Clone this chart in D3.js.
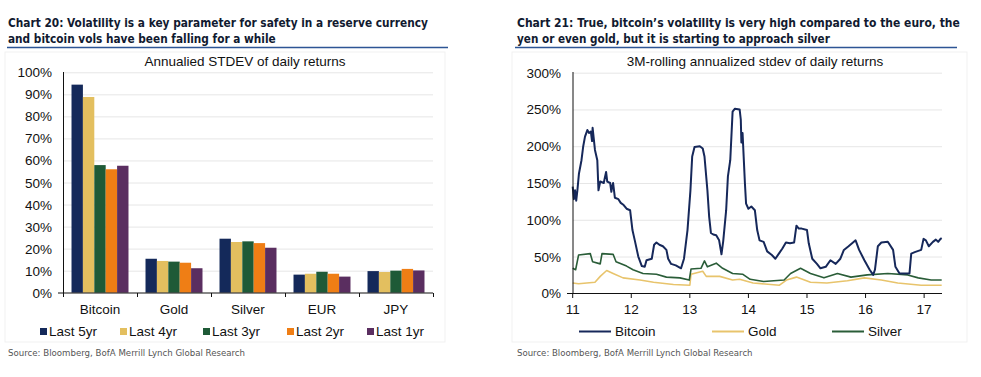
<!DOCTYPE html>
<html>
<head>
<meta charset="utf-8">
<script src="https://cdn.jsdelivr.net/npm/d3@7"></script>
<style>
  body { margin: 0; background: #fff; }
  svg { display: block; }
  .ttl { font-family: "Liberation Sans Narrow", "DejaVu Sans Condensed", "Roboto Condensed", sans-serif; font-weight: bold; font-size: 14px; fill: #111a30; }
  .src { font-family: "Liberation Sans Narrow", "DejaVu Sans Condensed", sans-serif; font-size: 11px; fill: #555; }
  .lbl { font-family: "Liberation Sans", Arial, sans-serif; font-size: 13.5px; fill: #111; }
</style>
</head>
<body>
<svg id="chart" width="981" height="377"></svg>
<script>
// ---- left chart data
const categories = ["Bitcoin", "Gold", "Silver", "EUR", "JPY"];
const seriesNames = ["Last 5yr", "Last 4yr", "Last 3yr", "Last 2yr", "Last 1yr"];
const last5yr = [94.4, 15.4, 24.5, 8.2, 9.8];
const last4yr = [88.8, 14.4, 23.0, 8.6, 9.4];
const last3yr = [57.9, 14.1, 23.3, 9.5, 10.0];
const last2yr = [56.0, 13.6, 22.5, 8.6, 10.8];
const last1yr = [57.6, 11.1, 20.4, 7.3, 10.1];
const barColors = ["#14295a", "#e3bf5f", "#1e5a37", "#ef7e15", "#5a2e60"];
const pctTicks = [0, 10, 20, 30, 40, 50, 60, 70, 80, 90, 100];

// ---- right chart data [year, %]
const bitcoinVol = [[11.0,145],[11.02,128],[11.04,140],[11.06,126],[11.08,140],[11.107,163],[11.15,181],[11.18,200],[11.21,213],[11.25,222],[11.28,218],[11.31,220],[11.33,207],[11.34,225],[11.38,195],[11.42,181],[11.44,140],[11.47,152],[11.53,150],[11.57,165],[11.59,152],[11.64,150],[11.66,138],[11.67,143],[11.69,150],[11.72,130],[11.78,128],[11.82,123],[11.87,120],[11.92,115],[11.98,113],[12.02,86],[12.06,72],[12.12,50],[12.18,37],[12.23,36],[12.26,45],[12.35,47],[12.39,66],[12.43,69],[12.48,66],[12.54,64],[12.6,59],[12.63,47],[12.68,40],[12.76,38],[12.85,34],[12.9,47],[12.96,86],[13.01,140],[13.04,186],[13.08,199],[13.17,200],[13.22,197],[13.25,186],[13.3,140],[13.33,104],[13.36,82],[13.4,80],[13.45,79],[13.5,72],[13.54,53],[13.57,71],[13.62,113],[13.65,159],[13.69,181],[13.73,247],[13.77,251],[13.85,250],[13.87,236],[13.88,205],[13.9,218],[13.94,150],[13.96,122],[14.0,115],[14.05,118],[14.11,113],[14.15,86],[14.19,72],[14.26,70],[14.32,57],[14.4,52],[14.46,47],[14.52,54],[14.58,61],[14.64,69],[14.71,68],[14.78,69],[14.82,92],[14.86,88],[14.91,88],[15.0,86],[15.03,68],[15.09,47],[15.17,40],[15.23,34],[15.32,36],[15.4,45],[15.49,40],[15.57,47],[15.63,59],[15.71,64],[15.83,72],[15.89,59],[15.98,45],[16.07,32],[16.13,25],[16.16,32],[16.21,64],[16.27,69],[16.38,70],[16.47,59],[16.51,36],[16.58,27],[16.75,27],[16.78,54],[16.84,56],[16.95,59],[16.99,74],[17.03,72],[17.08,64],[17.15,70],[17.2,73],[17.24,70],[17.28,74],[17.3,75]];
const goldVol = [[11.0,14],[11.1,13],[11.24,14],[11.38,15],[11.47,23],[11.58,31],[11.69,27],[11.86,21],[12.15,18],[12.38,15],[12.72,12],[13.0,11],[13.02,26],[13.22,30],[13.28,23],[13.51,23],[13.73,18],[13.85,19],[14.08,14],[14.53,11],[14.65,18],[14.82,22],[15.06,15],[15.34,14],[15.69,17],[15.98,21],[16.27,18],[16.55,14],[16.95,11],[17.3,11]];
const silverVol = [[11.0,34],[11.05,32],[11.1,52],[11.3,54],[11.34,43],[11.47,40],[11.5,54],[11.69,53],[11.74,43],[11.92,37],[12.03,32],[12.2,27],[12.43,26],[12.6,22],[12.83,21],[12.99,18],[13.02,33],[13.19,34],[13.25,44],[13.3,36],[13.45,41],[13.56,34],[13.73,27],[13.9,26],[14.03,19],[14.26,16],[14.61,18],[14.72,27],[14.89,34],[15.06,27],[15.29,21],[15.52,27],[15.75,22],[16.03,25],[16.38,27],[16.72,25],[16.9,21],[17.12,18],[17.3,18]];
const lineNames = ["Bitcoin", "Gold", "Silver"];
const lineColors = ["#16285a", "#e8c46c", "#2a5d38"];
const yearTicks = [11, 12, 13, 14, 15, 16, 17];
const rollTicks = [0, 50, 100, 150, 200, 250, 300];

const svg = d3.select("#chart");

// scale font size so the text spans the wanted width
function fitText(sel, width) {
  const fs = parseFloat(getComputedStyle(sel.node()).fontSize);
  const w = sel.node().getComputedTextLength();
  sel.style("font-size", (fs * width / w).toFixed(2) + "px");
}

// titles
function title(x, w1, w2, l1, l2) {
  fitText(svg.append("text").attr("class", "ttl").attr("x", x).attr("y", 27).text(l1), w1);
  fitText(svg.append("text").attr("class", "ttl").attr("x", x).attr("y", 43).text(l2), w2);
}
title(8, 420, 268, "Chart 20: Volatility is a key parameter for safety in a reserve currency", "and bitcoin vols have been falling for a while");
title(517, 443, 313, "Chart 21: True, bitcoin\u2019s volatility is very high compared to the euro, the", "yen or even gold, but it is starting to approach silver");
svg.append("line").attr("x1", 7).attr("x2", 448).attr("y1", 47.5).attr("y2", 47.5).attr("stroke", "#2d5595").attr("stroke-width", 1.3);
svg.append("line").attr("x1", 515).attr("x2", 957).attr("y1", 47.5).attr("y2", 47.5).attr("stroke", "#2d5595").attr("stroke-width", 1.3);

// ================= left: grouped bars
const xBand = d3.scaleBand().domain(categories).range([63, 433]).paddingInner(0.23).paddingOuter(0.115);
const xSub = d3.scaleBand().domain(seriesNames).range([0, xBand.bandwidth()]);
const yPct = d3.scaleLinear().domain([0, 100]).range([292.7, 72.3]);
const barSeries = [last5yr, last4yr, last3yr, last2yr, last1yr];

svg.append("rect").attr("x", 5).attr("y", 52).attr("width", 440).attr("height", 290).attr("fill", "none").attr("stroke", "#f1f1f1");

svg.append("g").selectAll("line").data(pctTicks.slice(1)).join("line")
  .attr("x1", 63).attr("x2", 433).attr("y1", d => yPct(d) + 0.5).attr("y2", d => yPct(d) + 0.5)
  .attr("stroke", "#e6e6e6");

const groups = svg.append("g").selectAll("g").data(categories).join("g")
  .attr("transform", d => `translate(${xBand(d)},0)`);
groups.selectAll("rect").data((c, ci) => seriesNames.map((s, si) => ({ s, si, v: barSeries[si][ci] }))).join("rect")
  .attr("x", d => xSub(d.s)).attr("width", xSub.bandwidth())
  .attr("y", d => yPct(d.v)).attr("height", d => yPct(0) - yPct(d.v))
  .attr("fill", d => barColors[d.si]);

svg.append("g").attr("class", "lbl").selectAll("text").data(pctTicks).join("text")
  .attr("x", 52).attr("y", d => yPct(d) + 5).attr("text-anchor", "end").text(d => d + "%");
svg.append("line").attr("x1", 63.5).attr("x2", 63.5).attr("y1", 72).attr("y2", 293).attr("stroke", "#111");
svg.append("line").attr("x1", 58).attr("x2", 433).attr("y1", 293).attr("y2", 293).attr("stroke", "#111");
const bandEdges = categories.map(c => xBand(c) - xBand.step() * xBand.paddingInner() / 2).concat([433]);
svg.append("g").selectAll("line").data(bandEdges).join("line")
  .attr("x1", d => d + 0.5).attr("x2", d => d + 0.5).attr("y1", 293).attr("y2", 297).attr("stroke", "#111");
svg.append("g").attr("class", "lbl").selectAll("text").data(categories).join("text")
  .attr("x", d => xBand(d) + xBand.bandwidth() / 2).attr("y", 314).attr("text-anchor", "middle").text(d => d);

svg.append("text").attr("class", "lbl").attr("x", 245).attr("y", 66).attr("text-anchor", "middle").text("Annualied STDEV of daily returns");

const legX = [40, 120, 203, 287, 367];
const leg = svg.append("g").selectAll("g").data(seriesNames).join("g").attr("transform", (d, i) => `translate(${legX[i]},0)`);
leg.append("rect").attr("x", 0).attr("y", 328).attr("width", 7).attr("height", 7).attr("fill", (d, i) => barColors[i]);
leg.append("text").attr("class", "lbl").attr("x", 9).attr("y", 336).text(d => d);

fitText(svg.append("text").attr("class", "src").attr("x", 8).attr("y", 356).text("Source: Bloomberg, BofA Merrill Lynch Global Research"), 237);

// ================= right: lines
const xYear = d3.scaleLinear().domain([11, 17.3]).range([572.7, 941.7]);
const yRoll = d3.scaleLinear().domain([0, 300]).range([293.3, 72.7]);

svg.append("rect").attr("x", 512).attr("y", 52).attr("width", 455).attr("height", 290).attr("fill", "none").attr("stroke", "#f1f1f1");

svg.append("g").selectAll("line").data(rollTicks.slice(1)).join("line")
  .attr("x1", 573).attr("x2", 942).attr("y1", d => yRoll(d) + 0.5).attr("y2", d => yRoll(d) + 0.5)
  .attr("stroke", "#e6e6e6");

const line = d3.line().x(d => xYear(d[0])).y(d => yRoll(d[1]));
const lineData = [bitcoinVol, goldVol, silverVol];
svg.append("g").selectAll("path").data([goldVol, silverVol, bitcoinVol]).join("path")
  .attr("d", d => line(d)).attr("fill", "none")
  .attr("stroke", d => lineColors[lineData.indexOf(d)])
  .attr("stroke-width", d => d === bitcoinVol ? 2 : 1.6)
  .attr("stroke-linejoin", "round");

svg.append("g").attr("class", "lbl").selectAll("text").data(rollTicks).join("text")
  .attr("x", 561).attr("y", d => yRoll(d) + 5).attr("text-anchor", "end").text(d => d + "%");
svg.append("line").attr("x1", 573).attr("x2", 573).attr("y1", 72).attr("y2", 293.5).attr("stroke", "#111");
svg.append("line").attr("x1", 567).attr("x2", 942).attr("y1", 293.5).attr("y2", 293.5).attr("stroke", "#111");
svg.append("g").selectAll("line").data(yearTicks).join("line")
  .attr("x1", d => xYear(d)).attr("x2", d => xYear(d)).attr("y1", 293).attr("y2", 298).attr("stroke", "#111");
svg.append("g").attr("class", "lbl").selectAll("text").data(yearTicks).join("text")
  .attr("x", d => xYear(d)).attr("y", 314).attr("text-anchor", "middle").text(d => d);

svg.append("text").attr("class", "lbl").attr("x", 755).attr("y", 66).attr("text-anchor", "middle").text("3M-rolling annualized stdev of daily returns");

const lineLegX = [579, 712, 832];
const lleg = svg.append("g").selectAll("g").data(lineNames).join("g").attr("transform", (d, i) => `translate(${lineLegX[i]},0)`);
lleg.append("line").attr("x1", 0).attr("x2", 32).attr("y1", 331.5).attr("y2", 331.5).attr("stroke", (d, i) => lineColors[i]).attr("stroke-width", 2);
lleg.append("text").attr("class", "lbl").attr("x", 36).attr("y", 336).text(d => d);

fitText(svg.append("text").attr("class", "src").attr("x", 517).attr("y", 356).text("Source: Bloomberg, BofA Merrill Lynch Global Research"), 236);
</script>
</body>
</html>
